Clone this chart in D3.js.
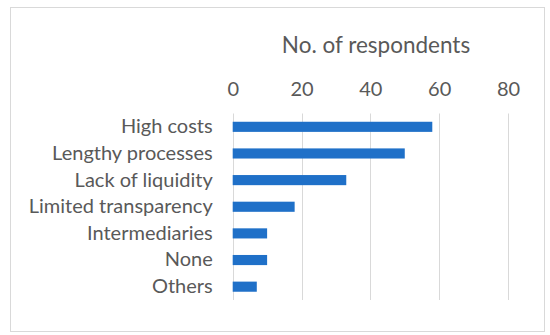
<!DOCTYPE html>
<html>
<head>
<meta charset="utf-8">
<script src="https://cdn.jsdelivr.net/npm/d3@7"></script>
<style>
  body { margin: 0; background: #fff; }
  text { font-family: Lato, "Open Sans", sans-serif; fill: #595959; }
</style>
</head>
<body>
<svg id="chart" width="550" height="335"></svg>
<script>
const categories = ["High costs", "Lengthy processes", "Lack of liquidity", "Limited transparency", "Intermediaries", "None", "Others"];
const respondents = [58, 50, 33, 18, 10, 10, 7];
const tickValues = [0, 20, 40, 60, 80];
const axisTitle = "No. of respondents";

const svg = d3.select("#chart");

// chart frame
svg.append("rect")
  .attr("x", 10.5).attr("y", 7.5)
  .attr("width", 534).attr("height", 324)
  .attr("fill", "#fff")
  .attr("stroke", "#d9d9d9");

const margin = {left: 232.7, right: 42, top: 113.5, bottom: 35};
const x = d3.scaleLinear().domain([0, 80]).range([margin.left, 550 - margin.right]);
const y = d3.scaleBand().domain(categories).range([margin.top, 335 - margin.bottom]).paddingInner(0.62).paddingOuter(0.31);

// gridlines
svg.append("g")
  .selectAll("line")
  .data(tickValues)
  .join("line")
  .attr("x1", d => Math.round(x(d)) + 0.5)
  .attr("x2", d => Math.round(x(d)) + 0.5)
  .attr("y1", margin.top)
  .attr("y2", 335 - margin.bottom)
  .attr("stroke", "#d9d9d9");

// tick labels on top
const xAxis = svg.append("g")
  .attr("transform", `translate(0,${margin.top - 15})`)
  .call(d3.axisTop(x).tickValues(tickValues).tickSize(0));
xAxis.select(".domain").remove();
xAxis.selectAll("text").style("font-size", "20px").attr("dy", 0);

// axis title
svg.append("text")
  .attr("x", 376)
  .attr("y", 53)
  .attr("text-anchor", "middle")
  .style("font-size", "22.5px")
  .text(axisTitle);

// category labels
const yAxis = svg.append("g")
  .attr("transform", `translate(${margin.left - 20},0)`)
  .call(d3.axisLeft(y).tickSize(0).tickPadding(0));
yAxis.select(".domain").remove();
yAxis.selectAll("text").style("font-size", "20px");

// bars
svg.append("g")
  .selectAll("rect")
  .data(categories)
  .join("rect")
  .attr("x", x(0))
  .attr("y", d => y(d))
  .attr("width", (d, i) => x(respondents[i]) - x(0))
  .attr("height", y.bandwidth())
  .attr("fill", "#1f70c8");
</script>
</body>
</html>
